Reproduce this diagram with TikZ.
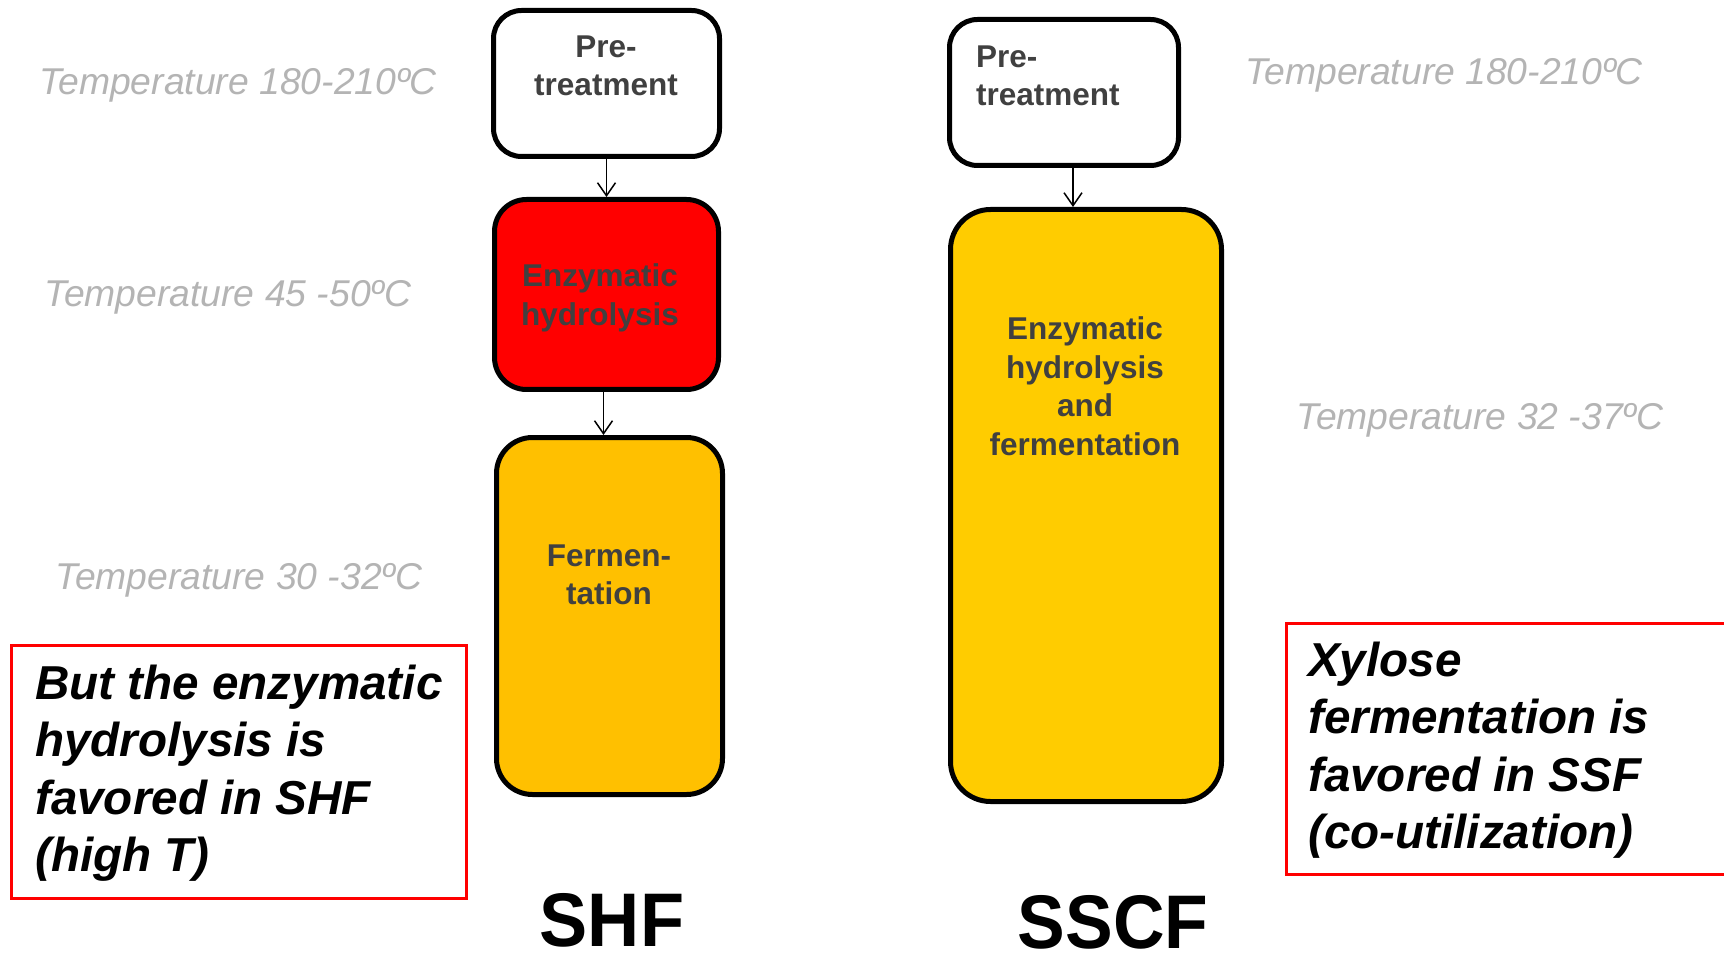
\documentclass[tikz,border=0pt]{standalone}
\usepackage{fontspec}
\setmainfont{Liberation Sans}
\usetikzlibrary{arrows.meta}
\definecolor{boxtext}{HTML}{404040}
\definecolor{tempgray}{HTML}{B4B4B4}
\definecolor{fermorange}{HTML}{FFC000}
\definecolor{ssfyellow}{HTML}{FFCC00}
\begin{document}
\begin{tikzpicture}[x=1pt,y=-1pt,
 stage/.style={draw=black, line width=5pt, rounded corners=28pt, inner sep=0pt},
 stagetext/.style={text=boxtext, font=\fontsize{31.5}{38.5}\selectfont\bfseries, align=center, inner sep=0pt},
 temp/.style={text=tempgray, font=\fontsize{37.3}{43}\selectfont\itshape, inner sep=0pt},
 note/.style={draw=red, line width=3pt, inner sep=0pt},
 notetext/.style={font=\fontsize{47.6}{57.5}\selectfont\bfseries\itshape, align=left, inner sep=0pt, anchor=west},
 flow/.style={-{Straight Barb[length=13pt,width=18pt]}, line width=1.5pt},
 process/.style={font=\fontsize{76}{80}\selectfont\bfseries, inner sep=0pt}]
\useasboundingbox[fill=white] (0,0) rectangle (1724,957);

% SHF column
\node[stage, fill=white, minimum width=226pt, minimum height=146pt] (pre1) at (606.5,83.5) {};
\node[stage, fill=red, minimum width=224pt, minimum height=190pt, rounded corners=32pt] (enz1) at (606.5,294.5) {};
\node[stage, fill=fermorange, minimum width=226pt, minimum height=357pt, rounded corners=36pt] (fer1) at (609.5,616) {};
\node[stagetext] (pre1t) at (606,66) {Pre-\\treatment};
\node[stagetext] (enz1t) at (600,298) {Enzymatic\\hydrolysis};
\node[stagetext] (fer1t) at (609,575) {Fermen-\\tation};
\draw[flow] (pre1.south) -- (enz1.north);
\draw[flow] ([xshift=-3pt]enz1.south) -- ([xshift=-3pt]enz1.south |- fer1.north);

% SSCF column
\node[stage, fill=white, minimum width=229pt, minimum height=146pt] (pre2) at (1064,92.5) {};
\node[stage, fill=ssfyellow, minimum width=271pt, minimum height=592pt, rounded corners=40pt] (ssf) at (1086,505.5) {};
\node[stagetext, align=left, anchor=west] (pre2t) at (976,76) {Pre-\\treatment};
\node[stagetext] (ssft) at (1085,386) {Enzymatic\\hydrolysis\\and\\fermentation};
\draw[flow] ([xshift=9pt]pre2.south) -- ([xshift=9pt]pre2.south |- ssf.north);

% temperatures
\node[temp] (t1) at (238,85) {Temperature 180-210ºC};
\node[temp] (t2) at (228,297) {Temperature 45 -50ºC};
\node[temp] (t3) at (239,580) {Temperature 30 -32ºC};
\node[temp] (t4) at (1444,75) {Temperature 180-210ºC};
\node[temp] (t5) at (1480,420) {Temperature 32 -37ºC};

% notes
\node[note, anchor=north west, minimum width=455pt, minimum height=253pt] (n1) at (10,644) {};
\node[notetext] (n1t) at (35,773) {But the enzymatic\\hydrolysis is\\favored in SHF\\(high T)};
\node[note, anchor=north west, minimum width=460pt, minimum height=251pt] (n2) at (1285,622) {};
\node[notetext] (n2t) at (1308,750) {Xylose\\fermentation is\\favored in SSF\\(co-utilization)};

% process names
\node[process] (shf) at (612,920) {\scalebox{0.95}[1]{SHF}};
\node[process] (sscf) at (1113,922) {\scalebox{0.94}[1]{SSCF}};
\end{tikzpicture}
\end{document}
